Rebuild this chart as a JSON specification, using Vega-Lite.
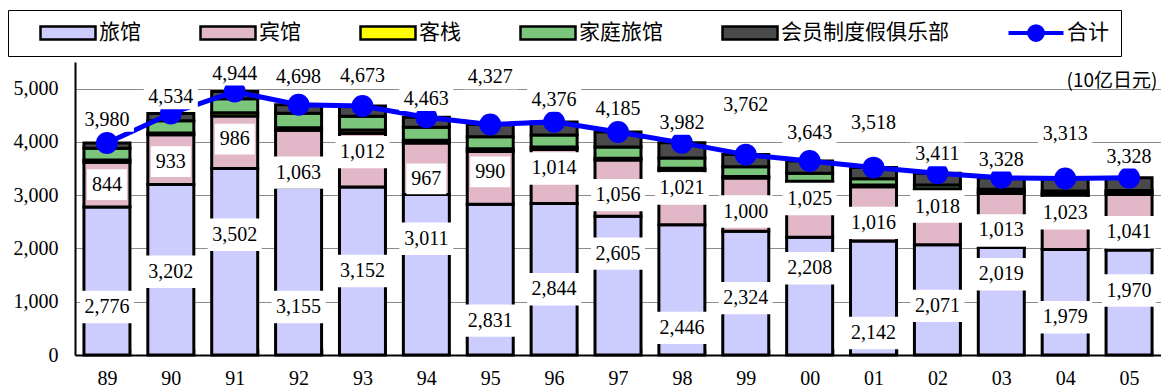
{
  "$schema": "https://vega.github.io/schema/vega-lite/v6.json",
  "width": 1086,
  "height": 293,
  "autosize": {"type": "none"},
  "padding": {"left": 75, "top": 62, "right": 0, "bottom": 36},
  "background": "white",
  "config": {"view": {"stroke": null}, "font": "Liberation Serif, DejaVu Serif, serif"},
  "data": {
    "values": [
      {"year": "89", "旅馆": 2776, "宾馆": 844, "客栈": 40, "家庭旅馆": 220, "会员制度假俱乐部": 100, "合计": 3980},
      {"year": "90", "旅馆": 3202, "宾馆": 933, "客栈": 30, "家庭旅馆": 230, "会员制度假俱乐部": 139, "合计": 4534},
      {"year": "91", "旅馆": 3502, "宾馆": 986, "客栈": 60, "家庭旅馆": 260, "会员制度假俱乐部": 136, "合计": 4944},
      {"year": "92", "旅馆": 3155, "宾馆": 1063, "客栈": 50, "家庭旅馆": 270, "会员制度假俱乐部": 160, "合计": 4698},
      {"year": "93", "旅馆": 3152, "宾馆": 1012, "客栈": 59, "家庭旅馆": 260, "会员制度假俱乐部": 190, "合计": 4673},
      {"year": "94", "旅馆": 3011, "宾馆": 967, "客栈": 55, "家庭旅馆": 240, "会员制度假俱乐部": 190, "合计": 4463},
      {"year": "95", "旅馆": 2831, "宾馆": 990, "客栈": 51, "家庭旅馆": 225, "会员制度假俱乐部": 230, "合计": 4327},
      {"year": "96", "旅馆": 2844, "宾馆": 1014, "客栈": 48, "家庭旅馆": 225, "会员制度假俱乐部": 245, "合计": 4376},
      {"year": "97", "旅馆": 2605, "宾馆": 1056, "客栈": 34, "家庭旅馆": 210, "会员制度假俱乐部": 280, "合计": 4185},
      {"year": "98", "旅馆": 2446, "宾馆": 1021, "客栈": 40, "家庭旅馆": 190, "会员制度假俱乐部": 285, "合计": 3982},
      {"year": "99", "旅馆": 2324, "宾馆": 1000, "客栈": 28, "家庭旅馆": 180, "会员制度假俱乐部": 230, "合计": 3762},
      {"year": "00", "旅馆": 2208, "宾馆": 1025, "客栈": 30, "家庭旅馆": 150, "会员制度假俱乐部": 230, "合计": 3643},
      {"year": "01", "旅馆": 2142, "宾馆": 1016, "客栈": 35, "家庭旅馆": 115, "会员制度假俱乐部": 210, "合计": 3518},
      {"year": "02", "旅馆": 2071, "宾馆": 1018, "客栈": 30, "家庭旅馆": 70, "会员制度假俱乐部": 222, "合计": 3411},
      {"year": "03", "旅馆": 2019, "宾馆": 1013, "客栈": 30, "家庭旅馆": 50, "会员制度假俱乐部": 216, "合计": 3328},
      {"year": "04", "旅馆": 1979, "宾馆": 1023, "客栈": 30, "家庭旅馆": 45, "会员制度假俱乐部": 236, "合计": 3313},
      {"year": "05", "旅馆": 1970, "宾馆": 1041, "客栈": 30, "家庭旅馆": 45, "会员制度假俱乐部": 242, "合计": 3328}
    ]
  },
  "encoding": {
    "x": {
      "field": "year",
      "type": "ordinal",
      "scale": {
        "domain": ["89", "90", "91", "92", "93", "94", "95", "96", "97", "98", "99", "00", "01", "02", "03", "04", "05"],
        "paddingInner": 0.28,
        "paddingOuter": 0.14
      },
      "axis": {
        "title": null,
        "labelAngle": 0,
        "labelFont": "Liberation Serif, DejaVu Serif, serif",
        "labelFontSize": 20,
        "labelColor": "black",
        "labelPadding": 19,
        "domainColor": "black",
        "domainWidth": 2,
        "ticks": true,
        "tickBand": "extent",
        "tickSize": -6,
        "tickColor": "black",
        "tickWidth": 1.5,
        "grid": false
      }
    }
  },
  "layer": [
    {
      "transform": [
        {"fold": ["旅馆", "宾馆", "客栈", "家庭旅馆", "会员制度假俱乐部"], "as": ["cat", "v"]},
        {"window": [{"op": "row_number", "as": "k"}], "groupby": ["year"]},
        {"stack": "v", "groupby": ["year"], "sort": [{"field": "k", "order": "ascending"}], "as": ["lo", "hi"]}
      ],
      "layer": [
        {
          "mark": {"type": "bar", "stroke": "black", "strokeWidth": 3},
          "encoding": {
            "y": {
              "field": "lo",
              "type": "quantitative",
              "scale": {"domain": [0, 5500], "nice": false},
              "axis": {
                "title": "(10亿日元)",
                "titleAngle": 0,
                "titleX": 1082,
                "titleY": 24,
                "titleAlign": "right",
                "titleBaseline": "alphabetic",
                "titleFont": "Noto Sans CJK SC",
                "titleFontSize": 19,
                "titleFontWeight": "normal",
                "titleColor": "black",
                "values": [0, 1000, 2000, 3000, 4000, 5000],
                "format": ",.0f",
                "labelFont": "Liberation Serif, DejaVu Serif, serif",
                "labelFontSize": 20,
                "labelColor": "black",
                "labelPadding": 17,
                "ticks": false,
                "domainColor": "black",
                "domainWidth": 2,
                "grid": true,
                "gridColor": "#8c8c8c",
                "gridWidth": 1
              }
            },
            "y2": {"field": "hi"},
            "fill": {
              "field": "cat",
              "type": "nominal",
              "scale": {
                "domain": ["旅馆", "宾馆", "客栈", "家庭旅馆", "会员制度假俱乐部", "合计"],
                "range": ["#ccccff", "#e2b8c8", "#ffff00", "#7cc67c", "#4a4a4a", "#0000ff"]
              },
              "legend": {
                "orient": "none",
                "legendX": -67,
                "legendY": -52,
                "direction": "horizontal",
                "title": " ",
                "titleOrient": "left",
                "titleFontSize": 1,
                "titlePadding": 19,
                "padding": 12,
                "clipHeight": 22,
                "strokeColor": "black",
                "fillColor": "white",
                "symbolType": "M-1,-0.24H1V0.24H-1Z",
                "symbolSize": 3025,
                "symbolStrokeWidth": 2.5,
                "symbolStrokeColor": "black",
                "labelFont": "Noto Sans CJK SC",
                "labelFontSize": 21,
                "labelColor": "black",
                "labelOffset": 2,
                "labelLimit": 300,
                "columnPadding": 58,
                "labelExpr": "datum.label === '合计' ? '合计  ' : datum.label",
                "encode": {
                  "symbols": {
                    "update": {
                      "shape": {"signal": "(datum.value === '合计' ? 'M-1,0H1M-0.25,0A0.25,0.25,0,1,0,0.25,0A0.25,0.25,0,1,0,-0.25,0Z' : 'M-1,-0.24H1V0.24H-1Z')"},
                      "stroke": {"signal": "(datum.value === '合计' ? '#0000ff' : 'black')"},
                      "strokeWidth": {"signal": "(datum.value === '合计' ? 4 : 2.5)"}
                    }
                  }
                }
              }
            }
          }
        },
        {
          "transform": [{"filter": {"field": "cat", "oneOf": ["旅馆", "宾馆"]}}],
          "mark": {
            "type": "point",
            "filled": true,
            "fill": "white",
            "opacity": 1,
            "strokeWidth": 0,
            "size": 2916,
            "yOffset": {"expr": "(scale('y', datum.lo) - scale('y', datum.hi)) / 2 + (datum.cat === '旅馆' ? {'89': 26, '90': 2, '91': -27, '92': 36, '93': 0, '94': -36, '95': 41, '96': 10, '97': -32, '98': 38, '99': 5, '00': -28, '01': 35, '02': 6, '03': -27, '04': 15, '05': -12}[datum.year] : {'89': 0, '90': 2, '91': -3, '92': 14, '93': -8, '94': 10, '95': -6, '96': -8, '97': 7, '98': -9, '99': 7, '00': -11, '01': 9, '02': -11, '03': 10, '04': -9, '05': 10}[datum.year])"}
          },
          "encoding": {
            "y": {"field": "hi", "type": "quantitative"},
            "shape": {
              "condition": {"test": "datum.v < 1000", "value": "M-0.74,-0.57H0.74V0.57H-0.74Z"},
              "value": "M-1,-0.6H1V0.6H-1Z"
            }
          }
        },
        {
          "transform": [{"filter": {"field": "cat", "oneOf": ["旅馆", "宾馆"]}}],
          "mark": {
            "type": "text",
            "font": "Liberation Serif, DejaVu Serif, serif",
            "fontSize": 20,
            "color": "black",
            "baseline": "middle",
            "align": "center",
            "dy": {"expr": "(scale('y', datum.lo) - scale('y', datum.hi)) / 2 + (datum.cat === '旅馆' ? {'89': 26, '90': 2, '91': -27, '92': 36, '93': 0, '94': -36, '95': 41, '96': 10, '97': -32, '98': 38, '99': 5, '00': -28, '01': 35, '02': 6, '03': -27, '04': 15, '05': -12}[datum.year] : {'89': 0, '90': 2, '91': -3, '92': 14, '93': -8, '94': 10, '95': -6, '96': -8, '97': 7, '98': -9, '99': 7, '00': -11, '01': 9, '02': -11, '03': 10, '04': -9, '05': 10}[datum.year])"}
          },
          "encoding": {
            "y": {"field": "hi", "type": "quantitative"},
            "text": {"field": "v", "type": "quantitative", "format": ","}
          }
        }
      ]
    },
    {
      "layer": [
        {
          "mark": {"type": "line", "color": "#0000ff", "strokeWidth": 5},
          "encoding": {"y": {"field": "合计", "type": "quantitative"}}
        },
        {
          "mark": {"type": "point", "filled": true, "color": "#0000ff", "opacity": 1, "size": 480},
          "encoding": {"y": {"field": "合计", "type": "quantitative"}}
        },
        {
          "mark": {
            "type": "point",
            "filled": true,
            "fill": "white",
            "opacity": 1,
            "strokeWidth": 0,
            "size": 2916,
            "shape": "M-1,-0.44H1V0.44H-1Z",
            "yOffset": {"expr": "{'89': -23, '90': -16, '91': -18, '92': -28, '93': -30, '94': -18, '95': -47, '96': -22, '97': -23, '98': -20, '99': -50, '00': -28, '01': -45, '02': -19, '03': -18, '04': -45, '05': -21}[datum.year]"}
          },
          "encoding": {"y": {"field": "合计", "type": "quantitative"}}
        },
        {
          "mark": {
            "type": "text",
            "font": "Liberation Serif, DejaVu Serif, serif",
            "fontSize": 20,
            "color": "black",
            "baseline": "middle",
            "align": "center",
            "dy": {"expr": "{'89': -23, '90': -16, '91': -18, '92': -28, '93': -30, '94': -18, '95': -47, '96': -22, '97': -23, '98': -20, '99': -50, '00': -28, '01': -45, '02': -19, '03': -18, '04': -45, '05': -21}[datum.year]"}
          },
          "encoding": {
            "y": {"field": "合计", "type": "quantitative"},
            "text": {"field": "合计", "type": "quantitative", "format": ","}
          }
        }
      ]
    }
  ]
}
